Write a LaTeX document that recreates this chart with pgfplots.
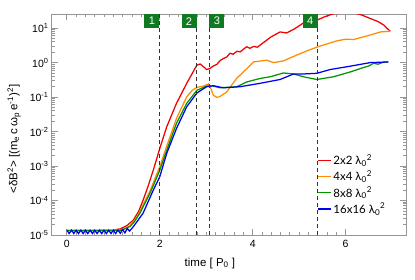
\documentclass[border=0pt]{standalone}
\usepackage{fontspec}
\setmainfont{Liberation Sans}
\newfontfamily\legfont{Lato}
\usepackage{pgfplots}
\pgfplotsset{compat=1.18}
\definecolor{cred}{RGB}{240,0,0}
\definecolor{corange}{RGB}{255,140,0}
\definecolor{cgreen}{RGB}{0,150,0}
\definecolor{cblue}{RGB}{0,0,240}
\definecolor{boxgreen}{RGB}{16,122,32}
\definecolor{axgray}{RGB}{150,150,150}
\tikzset{numbox/.style={fill=boxgreen, text=white, anchor=north, minimum width=15pt, minimum height=14pt, inner sep=0pt, font=\fontsize{11}{12}\selectfont}}
\begin{document}
\begin{tikzpicture}
\useasboundingbox (-52pt,-44pt) rectangle (363pt,235pt);
\begin{axis}[
  at={(0,0)}, anchor=south west,
  scale only axis, width=354pt, height=221pt,
  ymode=log,
  xmin=-0.32, xmax=7.3, ymin=1e-5, ymax=25.7,
  xtick={0,2,4,6}, minor x tick num=9,
  ytick={1e-5,1e-4,1e-3,1e-2,1e-1,1,10},
  yticklabels={10\textsuperscript{-5},10\textsuperscript{-4},10\textsuperscript{-3},10\textsuperscript{-2},10\textsuperscript{-1},10\textsuperscript{0},10\textsuperscript{1}},
  /pgf/number format/assume math mode=true,
  axis line style={axgray, line width=1pt},
  every tick/.style={axgray, line width=0.8pt},
  major tick length=6pt, minor tick length=3pt,
  tick label style={font=\fontsize{10.5}{12}\selectfont, text=black},
  xticklabel style={yshift=-2pt},
  xlabel={time [ P\textsubscript{0} ]},
  xlabel style={at={(axis description cs:0.446,-0.127)}, anchor=center, font=\fontsize{11.5}{13}\selectfont},
  ylabel={<δB\textsuperscript{2}> [(m\textsubscript{e}\,c\,ω\textsubscript{p}\,e\textsuperscript{-1})\textsuperscript{2}]},
  ylabel style={at={(axis description cs:-0.107,0.434)}, anchor=center, font=\fontsize{11.5}{13}\selectfont},
  legend style={draw=none, fill=none, at={(axis description cs:0.75,0.372)}, anchor=north west,
    font=\legfont\fontsize{11.5}{13}\selectfont, row sep=1.5pt, inner sep=0pt,
    nodes={inner sep=1.5pt}},
  legend cell align=left,
  legend image code/.code={\draw[mark repeat=2,mark phase=2,#1] plot coordinates {(0pt,0pt) (6.5pt,0pt) (13pt,0pt)};},
]
\addplot[color=cred, line width=1.25pt] coordinates {
(0,1.35e-5) (0.5,1.35e-5) (1.0,1.38e-5) (1.15,1.51e-5) (1.3,1.91e-5) (1.43,2.69e-5)
(1.55,5.01e-5) (1.64,1.02e-4) (1.75,2.63e-4) (1.86,7.59e-4) (2.0,3.24e-3) (2.15,1.38e-2)
(2.36,6.61e-2) (2.58,0.251) (2.80,0.851) (2.87,0.912) (2.94,0.759) (3.01,0.631) (3.08,0.676)
(3.15,0.794) (3.23,0.891) (3.30,1.15) (3.37,1.318) (3.44,1.45) (3.51,1.862) (3.58,1.75) (3.66,2.138)
(3.73,2.05) (3.80,2.45) (3.87,2.884) (3.94,2.60) (4.02,2.951) (4.10,2.80) (4.23,3.802) (4.40,5.623)
(4.59,7.762) (4.73,7.244) (4.90,9.55) (5.09,14.13) (5.38,16.98) (5.55,21.38) (5.74,26.3)
(6.17,28.2) (6.35,23.99) (6.53,19.05) (6.70,15.49) (6.82,12.30) (6.96,8.13)
};
\addplot[color=corange, line width=1.25pt] coordinates {
(0,1.35e-5) (1.0,1.35e-5) (1.2,1.48e-5) (1.36,1.82e-5) (1.50,3.16e-5) (1.57,4.79e-5)
(1.79,1.91e-4) (2.0,9.55e-4) (2.15,3.80e-3) (2.36,2.40e-2) (2.58,0.102) (2.70,0.158)
(2.80,0.191) (2.94,0.209) (3.05,0.240) (3.10,0.178) (3.15,0.115) (3.23,0.0977) (3.30,0.105)
(3.44,0.141) (3.51,0.191) (3.66,0.355) (3.80,0.537) (4.02,1.047) (4.30,1.175) (4.45,1.0)
(4.66,1.122) (4.95,1.660) (5.24,2.399) (5.45,3.020) (5.81,4.266) (6.00,4.786) (6.17,4.677)
(6.53,6.310) (6.75,7.762) (6.96,8.128)
};
\addplot[color=cgreen, line width=1.25pt] coordinates {
(0,1.35e-5) (1.1,1.35e-5) (1.2,1.41e-5) (1.36,1.78e-5) (1.45,2.40e-5) (1.57,4.27e-5)
(1.79,1.62e-4) (2.0,7.59e-4) (2.15,2.88e-3) (2.36,1.74e-2) (2.58,6.61e-2) (2.80,0.158)
(3.01,0.209) (3.15,0.209) (3.30,0.186) (3.66,0.200) (3.87,0.275) (4.16,0.347) (4.38,0.389)
(4.66,0.501) (4.88,0.468) (5.09,0.389) (5.38,0.324) (5.74,0.389) (6.10,0.537) (6.39,0.724)
(6.50,0.80) (6.60,0.955) (6.70,0.90) (6.80,1.02) (6.92,1.047)
};
\addplot[color=cblue, line width=1.25pt] coordinates {
(0,1.38e-5) (0.05,1.10e-5) (0.1,1.38e-5) (0.15,1.10e-5) (0.2,1.38e-5) (0.25,1.10e-5)
(0.3,1.38e-5) (0.35,1.10e-5) (0.4,1.38e-5) (0.45,1.10e-5) (0.5,1.38e-5) (0.55,1.10e-5)
(0.6,1.38e-5) (0.65,1.10e-5) (0.7,1.38e-5) (0.75,1.10e-5) (0.8,1.38e-5) (0.85,1.10e-5)
(0.9,1.38e-5) (0.95,1.10e-5) (1.0,1.38e-5) (1.05,1.10e-5) (1.1,1.40e-5) (1.15,1.12e-5)
(1.2,1.45e-5) (1.25,1.15e-5) (1.3,1.55e-5) (1.35,1.30e-5) (1.43,1.74e-5) (1.64,4.27e-5)
(1.86,2.00e-4) (2.0,4.90e-4) (2.15,2.34e-3) (2.36,1.23e-2) (2.58,5.25e-2) (2.80,0.132)
(3.01,0.200) (3.15,0.214) (3.37,0.186) (3.73,0.200) (4.16,0.251) (4.59,0.324) (4.88,0.468)
(5.09,0.468) (5.38,0.490) (5.67,0.631) (6.03,0.759) (6.53,1.0) (6.92,1.047)
};
\legend{2x2 λ\textsubscript{0}\textsuperscript{2},4x4 λ\textsubscript{0}\textsuperscript{2},8x8 λ\textsubscript{0}\textsuperscript{2},16x16 λ\textsubscript{0}\textsuperscript{2}}

% dashed markers
\addplot[black!80, dash pattern=on 4pt off 3pt, line width=1pt, forget plot] coordinates {(2.0,1e-5) (2.0,30)};
\addplot[black!80, dash pattern=on 4pt off 3pt, line width=1pt, forget plot] coordinates {(2.79,1e-5) (2.79,30)};
\addplot[black!80, dash pattern=on 4pt off 3pt, line width=1pt, forget plot] coordinates {(3.08,1e-5) (3.08,30)};
\addplot[black!80, dash pattern=on 4pt off 3pt, line width=1pt, forget plot] coordinates {(5.40,1e-5) (5.40,30)};

\node[numbox] at (axis cs:1.83,25.7) {1};
\node[numbox] at (axis cs:2.63,25.7) {2};
\node[numbox] at (axis cs:3.23,25.7) {3};
\node[numbox] at (axis cs:5.24,25.7) {4};
\end{axis}
\end{tikzpicture}
\end{document}
